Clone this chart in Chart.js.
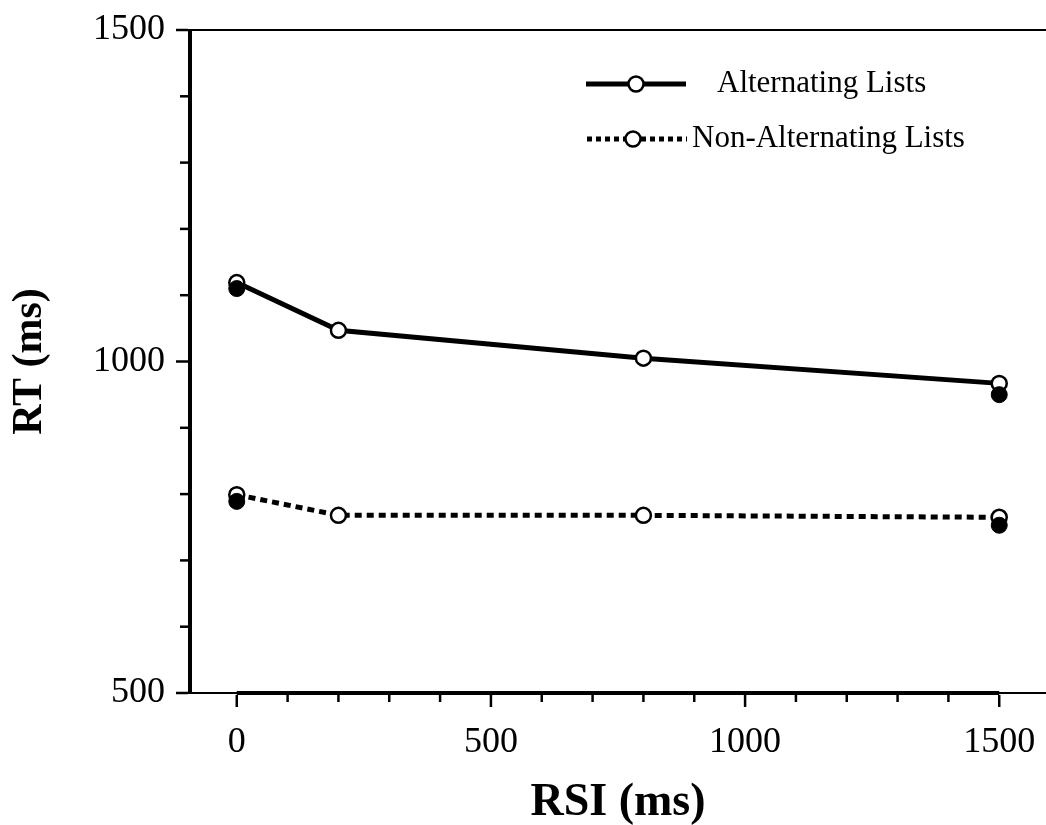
<!DOCTYPE html>
<html>
<head>
<meta charset="utf-8">
<script src="https://cdn.jsdelivr.net/npm/chart.js@4/dist/chart.umd.min.js"></script>
<style>
html, body { margin: 0; padding: 0; background: #fff; }
#wrap { width: 1046px; height: 825px; position: relative; }
</style>
</head>
<body>
<div id="wrap"><canvas id="rtChart"></canvas></div>
<script>
// Data
const rsiValues = [0, 200, 800, 1500];
const altOpen = [1119, 1047, 1005, 967];
const nonAltOpen = [799, 768, 768, 765];
const filledRsi = [0, 1500];
const altFilled = [1110, 950];
const nonAltFilled = [789, 753];
const xTickLabels = [0, 500, 1000, 1500];
const yTickLabels = [500, 1000, 1500];
const seriesNames = ['Alternating Lists', 'Non-Alternating Lists'];

const serif = "'Liberation Serif', 'Times New Roman', serif";

function toPoints(xs, ys) {
  return xs.map((x, i) => ({ x: x, y: ys[i] }));
}

// Axes, frame and tick marks drawn by hand (minor ticks shorter than major)
const frameAxes = {
  id: 'frameAxes',
  afterDraw(chart) {
    const ctx = chart.ctx;
    const area = chart.chartArea;
    const xs = chart.scales.x;
    const ys = chart.scales.y;
    ctx.save();
    ctx.strokeStyle = '#000';
    ctx.lineCap = 'butt';

    // top frame line
    ctx.lineWidth = 2;
    ctx.beginPath();
    ctx.moveTo(area.left, area.top);
    ctx.lineTo(area.right, area.top);
    ctx.stroke();

    // thin x axis over full width
    ctx.beginPath();
    ctx.moveTo(area.left, area.bottom);
    ctx.lineTo(area.right, area.bottom);
    ctx.stroke();

    // thick part of the x axis between first and last labelled tick
    ctx.lineWidth = 4;
    ctx.beginPath();
    ctx.moveTo(xs.getPixelForValue(xTickLabels[0]), area.bottom);
    ctx.lineTo(xs.getPixelForValue(xTickLabels[xTickLabels.length - 1]), area.bottom);
    ctx.stroke();

    // y axis
    ctx.beginPath();
    ctx.moveTo(area.left, area.top - 1);
    ctx.lineTo(area.left, area.bottom + 1);
    ctx.stroke();

    // y ticks
    ctx.lineWidth = 2.5;
    ys.ticks.forEach(t => {
      const py = ys.getPixelForValue(t.value);
      const len = yTickLabels.includes(t.value) ? 12 : 8;
      ctx.beginPath();
      ctx.moveTo(area.left - 2, py);
      ctx.lineTo(area.left - 2 - len, py);
      ctx.stroke();
    });

    // x ticks
    xs.ticks.forEach(t => {
      const px = xs.getPixelForValue(t.value);
      const len = xTickLabels.includes(t.value) ? 12 : 7;
      ctx.beginPath();
      ctx.moveTo(px, area.bottom + 2);
      ctx.lineTo(px, area.bottom + 2 + len);
      ctx.stroke();
    });
    ctx.restore();
  }
};

// Legend: line sample with open circle in the middle
const lineLegend = {
  id: 'lineLegend',
  afterDraw(chart) {
    const ctx = chart.ctx;
    const area = chart.chartArea;
    const rows = [
      { ds: chart.data.datasets[2], y: area.top + 54, x0: area.left + 396, x1: area.left + 496, cx: area.left + 446, tx: area.left + 527, dash: [] },
      { ds: chart.data.datasets[3], y: area.top + 109, x0: area.left + 397, x1: area.left + 497, cx: area.left + 443, tx: area.left + 502, dash: [5, 4] }
    ];
    ctx.save();
    rows.forEach(r => {
      ctx.strokeStyle = r.ds.borderColor;
      ctx.lineWidth = 5;
      ctx.setLineDash(r.dash);
      ctx.beginPath();
      ctx.moveTo(r.x0, r.y);
      ctx.lineTo(r.x1, r.y);
      ctx.stroke();
      ctx.setLineDash([]);
      ctx.beginPath();
      ctx.arc(r.cx, r.y, r.ds.pointRadius, 0, Math.PI * 2);
      ctx.fillStyle = r.ds.pointBackgroundColor;
      ctx.fill();
      ctx.lineWidth = r.ds.pointBorderWidth;
      ctx.strokeStyle = r.ds.pointBorderColor;
      ctx.stroke();
      ctx.fillStyle = '#000';
      ctx.font = '31px ' + serif;
      ctx.textBaseline = 'middle';
      ctx.textAlign = 'left';
      ctx.fillText(r.ds.label, r.tx, r.y);
    });
    ctx.restore();
  }
};

const ctx = document.getElementById('rtChart').getContext('2d');
const rtChart = new Chart(ctx, {
  type: 'line',
  data: {
    datasets: [
      {
        label: seriesNames[0] + ' (filled)',
        data: toPoints(filledRsi, altFilled),
        showLine: false,
        pointRadius: 8,
        pointBackgroundColor: '#000',
        pointBorderColor: '#000',
        pointBorderWidth: 1,
        order: 0
      },
      {
        label: seriesNames[1] + ' (filled)',
        data: toPoints(filledRsi, nonAltFilled),
        showLine: false,
        pointRadius: 8,
        pointBackgroundColor: '#000',
        pointBorderColor: '#000',
        pointBorderWidth: 1,
        order: 0
      },
      {
        label: seriesNames[0],
        data: toPoints(rsiValues, altOpen),
        borderColor: '#000',
        borderWidth: 5,
        pointRadius: 7.5,
        pointBackgroundColor: '#fff',
        pointBorderColor: '#000',
        pointBorderWidth: 2.5,
        tension: 0,
        order: 1
      },
      {
        label: seriesNames[1],
        data: toPoints(rsiValues, nonAltOpen),
        borderColor: '#000',
        borderWidth: 5,
        borderDash: [7, 5],
        pointRadius: 7.5,
        pointBackgroundColor: '#fff',
        pointBorderColor: '#000',
        pointBorderWidth: 2.5,
        tension: 0,
        order: 1
      }
    ]
  },
  options: {
    responsive: true,
    maintainAspectRatio: false,
    animation: false,
    layout: { autoPadding: false, padding: { top: 30, right: 0, left: 0, bottom: 0 } },
    plugins: {
      legend: { display: false },
      tooltip: { enabled: false }
    },
    scales: {
      x: {
        type: 'linear',
        min: -92,
        max: 1592,
        border: { display: false },
        grid: { display: false, drawTicks: false },
        ticks: {
          stepSize: 100,
          includeBounds: false,
          autoSkip: false,
          maxRotation: 0,
          padding: 28,
          color: '#000',
          font: { family: serif, size: 36 },
          callback: v => xTickLabels.includes(v) ? String(v) : ''
        },
        afterBuildTicks: s => {
          s.ticks = s.ticks.filter(t => t.value >= xTickLabels[0] && t.value <= xTickLabels[xTickLabels.length - 1]);
        },
        afterFit: s => { s.height = 132; s.paddingLeft = 0; s.paddingRight = 0; },
        title: {
          display: true,
          text: 'RSI (ms)',
          color: '#000',
          font: { family: serif, size: 46, weight: 'bold', lineHeight: 0.95 },
          padding: { top: 0, bottom: 0 }
        }
      },
      y: {
        min: 500,
        max: 1500,
        border: { display: false },
        grid: { display: false, drawTicks: false },
        ticks: {
          stepSize: 100,
          autoSkip: false,
          padding: 25,
          color: '#000',
          font: { family: serif, size: 36 },
          callback: v => yTickLabels.includes(v) ? String(v) : ''
        },
        afterFit: s => { s.width = 190; s.paddingTop = 0; s.paddingBottom = 0; },
        title: {
          display: true,
          text: 'RT (ms)',
          color: '#000',
          font: { family: serif, size: 42, weight: 'bold', lineHeight: 1 },
          padding: { top: 9, bottom: 0 }
        }
      }
    }
  },
  plugins: [frameAxes, lineLegend]
});
</script>
</body>
</html>
